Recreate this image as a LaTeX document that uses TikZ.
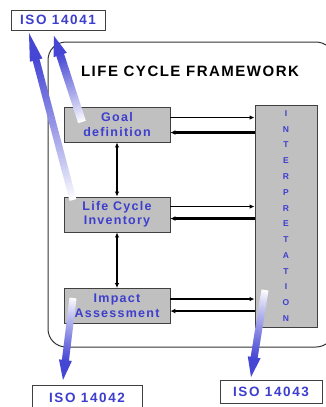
\documentclass[tikz,border=0pt]{standalone}
\usepackage{fontspec}
\setmainfont{Liberation Sans}
\usetikzlibrary{calc,arrows.meta}
\definecolor{txtblue}{RGB}{62,62,206}
\definecolor{boxgray}{RGB}{192,192,192}
\definecolor{arrblue}{RGB}{70,70,212}
\tikzset{
  stagebox/.style={draw=black!75, line width=0.9pt, fill=boxgray, minimum width=106pt,
    minimum height=35pt, inner sep=0pt, align=center, text=txtblue,
    font=\bfseries\fontsize{12.5}{14.5}\selectfont\addfontfeature{LetterSpace=10}},
  interpbox/.style={draw=black!75, line width=0.9pt, fill=boxgray, minimum width=62pt,
    minimum height=222pt, inner sep=0pt, align=center, text=txtblue,
    font=\bfseries\fontsize{8.5}{15.77}\selectfont},
  isobox/.style={draw=black!75, line width=0.9pt, fill=white, inner sep=0pt, text=txtblue,
    font=\bfseries\fontsize{13.5}{15}\selectfont\addfontfeature{LetterSpace=12}},
  titletext/.style={font=\bfseries\fontsize{15}{17}\selectfont\addfontfeature{LetterSpace=10}},
  flow/.style={-{Latex[length=5pt,width=4.5pt]}, line width=1.3pt},
  flowback/.style={-{Latex[length=5pt,width=5pt]}, line width=2.2pt},
  link/.style={{Latex[length=5pt,width=4.5pt]}-{Latex[length=5pt,width=4.5pt]}, line width=1.8pt},
  frame/.style={draw=black!80, line width=1pt, rounded corners=18pt},
}
\newcommand\gradarrow[5]{% tail, tip, head length, head half width, shaft half width
  \path (#1); \pgfgetlastxy{\gax}{\gay}
  \path (#2); \pgfgetlastxy{\gbx}{\gby}
  \pgfmathsetmacro\gang{atan2(\gby-\gay,\gbx-\gax)}
  \pgfmathsetmacro\glen{veclen(\gbx-\gax,\gby-\gay)}
  \pgfmathsetmacro\gshaft{\glen-#3}
  \begin{scope}[shift={(#1)}, rotate=\gang]
    \foreach \i in {0,...,39}{
      \pgfmathsetmacro\xa{\gshaft*\i/40}
      \pgfmathsetmacro\xb{\gshaft*(\i+1)/40+0.4}
      \pgfmathtruncatemacro\pc{100*((\i+0.5)/40)^0.9}
      \fill[arrblue!\pc!white] (\xa pt,-#5) rectangle (\xb pt,#5);
    }
    \fill[arrblue] (\gshaft pt,-#4) -- (\glen pt,0pt) -- (\gshaft pt,#4) -- cycle;
  \end{scope}
}
\begin{document}
\begin{tikzpicture}[x=1pt,y=-1pt]
\useasboundingbox (0,0) rectangle (326,407);
\begin{scope}
  \clip (0,0) rectangle (326,407);
  \draw[frame] (48,42) rectangle (334,347);
\end{scope}
\node[titletext] (title) at (190,71) {LIFE CYCLE FRAMEWORK};

\node[stagebox] (goal) at (117,124.5) {Goal\\definition};
\node[stagebox] (lci) at (117,214.5) {Life Cycle\\Inventory};
\node[stagebox] (impact) at (117,306) {Impact\\Assessment};
\node[interpbox] (interp) at (286,216) {I\\N\\T\\E\\R\\P\\R\\E\\T\\A\\T\\I\\O\\N};

\draw[flow] ([yshift=-11pt]goal.north east) -- ([yshift=-11pt]goal.north east -| interp.west);
\draw[flowback] ([yshift=-26pt]goal.north east -| interp.west) -- ([yshift=-26pt]goal.north east);
\draw[flow] ([yshift=-10pt]lci.north east) -- ([yshift=-10pt]lci.north east -| interp.west);
\draw[flowback] ([yshift=-22pt]lci.north east -| interp.west) -- ([yshift=-22pt]lci.north east);
\draw[flow] ([yshift=-11pt]impact.north east) -- ([yshift=-11pt]impact.north east -| interp.west);
\draw[flowback] ([yshift=-23pt]impact.north east -| interp.west) -- ([yshift=-23pt]impact.north east);

\draw[link] (goal.south) -- (lci.north);
\draw[link] (lci.south) -- (impact.north);

\node[isobox, minimum width=94pt, minimum height=20pt] (iso1) at (58,20) {ISO 14041};
\node[isobox, minimum width=110pt, minimum height=25pt] (iso2) at (87,397.5) {ISO 14042};
\node[isobox, minimum width=102pt, minimum height=23pt] (iso3) at (271,391.5) {ISO 14043};

\coordinate (t1) at (73,200);
\coordinate (h1) at (29,33);
\coordinate (t2) at (82,122);
\coordinate (h2) at (54,36);
\coordinate (t3) at (73,298);
\coordinate (h3) at (63,380);
\coordinate (t4) at (265,290);
\coordinate (h4) at (251,377);
\gradarrow{t1}{h1}{28pt}{6.5pt}{3.5pt}
\gradarrow{t2}{h2}{20pt}{7pt}{4pt}
\gradarrow{t3}{h3}{20pt}{6.5pt}{3.5pt}
\gradarrow{t4}{h4}{20pt}{6.5pt}{3.5pt}
\end{tikzpicture}
\end{document}
